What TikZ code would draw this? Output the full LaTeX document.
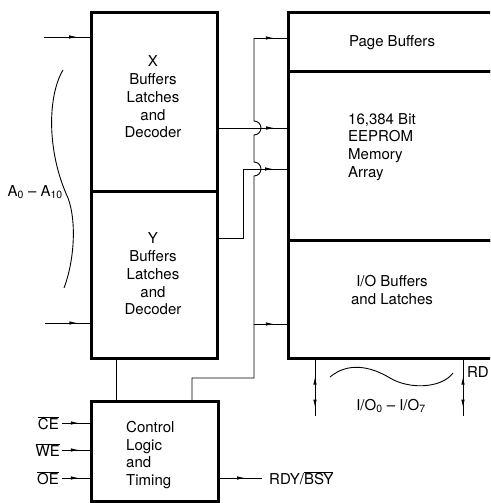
\documentclass[tikz,border=0pt]{standalone}
\usepackage{fontspec}
\setmainfont{TeX Gyre Heros}
\usetikzlibrary{arrows.meta,decorations.markings}
\begin{document}
\begin{tikzpicture}[x=1pt,y=-1pt,
  box/.style={draw, line width=2.8pt, inner sep=0pt, anchor=north west},
  wire/.style={line width=0.9pt},
  lbl/.style={font=\fontsize{15pt}{17.7pt}\selectfont, inner sep=0pt},
  midarrow/.style={decoration={markings, mark=at position #1 with {\arrow{Latex[length=8pt,width=3.5pt]}}}, postaction={decorate}},
  bidir/.style={decoration={markings,
     mark=at position 0.3 with {\arrowreversed{Latex[length=8pt,width=3.5pt]}},
     mark=at position 0.85 with {\arrow{Latex[length=8pt,width=3.5pt]}}}, postaction={decorate}}
]
\useasboundingbox (0,0) rectangle (490,503);
\clip (0,0) rectangle (490,503);

% boxes
\node[box, minimum width=126pt, minimum height=179pt] (xdec) at (90,11) {};
\node[box, minimum width=126pt, minimum height=167pt] (ydec) at (90,190) {};
\node[box, minimum width=127pt, minimum height=100pt] (ctrl) at (90,400) {};
\node[box, minimum width=220pt, minimum height=59pt] (page) at (287,11) {};
\node[box, minimum width=220pt, minimum height=169pt] (mem) at (287,70) {};
\node[box, minimum width=220pt, minimum height=118pt] (io) at (287,239) {};

% texts
\node[lbl, align=center] (xt) at (153,97) {X\\Buffers\\Latches\\and\\Decoder};
\node[lbl, align=center] (yt) at (153,274) {Y\\Buffers\\Latches\\and\\Decoder};
\node[lbl] (pt) at (392,43) {Page Buffers};
\node[lbl, align=left, anchor=west] (mt) at (348,147) {16,384 Bit\\EEPROM\\Memory\\Array};
\node[lbl, align=center] (iot) at (392,290) {I/O Buffers\\and Latches};
\node[lbl, align=left, anchor=west] (ct) at (126,455) {Control\\Logic\\and\\Timing};

% address inputs
\coordinate (xi) at (44,37);
\coordinate (yi) at (45,323);
\draw[wire, midarrow=0.72] (xi) -- (xi -| xdec.west);
\draw[wire, midarrow=0.72] (yi) -- (yi -| ydec.west);
\draw[wire] (63,70) .. controls (48,95) and (46,150) .. (68,198)
            .. controls (77,222) and (74,262) .. (64,288);
\node[lbl, anchor=east] (alab) at (63,192) {A\textsubscript{0} -- A\textsubscript{10}};

% decoder outputs to memory
\coordinate (xo) at (216,128);
\draw[wire, midarrow=0.82] (xo) -- (xo -| mem.west);
\coordinate (yo) at (216,238);
\coordinate (ym) at (243,169);
\draw[wire, midarrow=0.9] (yo) -- (ym |- yo) -- (ym) -- (ym -| mem.west);

% control bus
\coordinate (pb) at (254,38);
\coordinate (ib) at (254,324);
\coordinate (cb) at (192,400);
\draw[wire] (pb) -- (254,121) arc[start angle=90, end angle=-90, radius=7pt]
   -- (254,162) arc[start angle=90, end angle=-90, radius=7pt]
   -- (254,378) -- (192,378) -- (cb);
\draw[wire, midarrow=0.6] (pb) -- (pb -| page.west);
\draw[wire, midarrow=0.6] (ib) -- (ib -| io.west);
\coordinate (yc) at (116,357);
\draw[wire] (yc) -- (yc |- ctrl.north);

% control inputs
\coordinate (cei) at (62,423);
\coordinate (wei) at (62,450);
\coordinate (oei) at (62,478);
\draw[wire, midarrow=0.6] (cei) -- (cei -| ctrl.west);
\draw[wire, midarrow=0.6] (wei) -- (wei -| ctrl.west);
\draw[wire, midarrow=0.6] (oei) -- (oei -| ctrl.west);
\node[lbl, anchor=east] (ce) at (59,423) {$\overline{\mbox{CE}}$};
\node[lbl, anchor=east] (we) at (60,450) {$\overline{\mbox{WE}}$};
\node[lbl, anchor=east] (oe) at (59,478) {$\overline{\mbox{OE}}$};

% ready/busy
\coordinate (rdo) at (262,478);
\draw[wire, midarrow=0.6] (rdo -| ctrl.east) -- (rdo);
\node[lbl, anchor=west] (rdy) at (269,478) {RDY/$\overline{\mbox{BSY}}$};

% I/O lines
\coordinate (io1) at (315,416);
\coordinate (io2) at (463,416);
\draw[wire, bidir] (io1 |- io.south) -- (io1);
\draw[wire, bidir] (io2 |- io.south) -- (io2);
\draw[wire] (330,377) .. controls (348,362) and (370,366) .. (390,378)
            .. controls (410,390) and (442,388) .. (453,373);
\node[lbl] (iolab) at (391,406) {I/O\textsubscript{0} -- I/O\textsubscript{7}};
\node[lbl, anchor=east] (rd) at (489,372) {RD};
\end{tikzpicture}
\end{document}
